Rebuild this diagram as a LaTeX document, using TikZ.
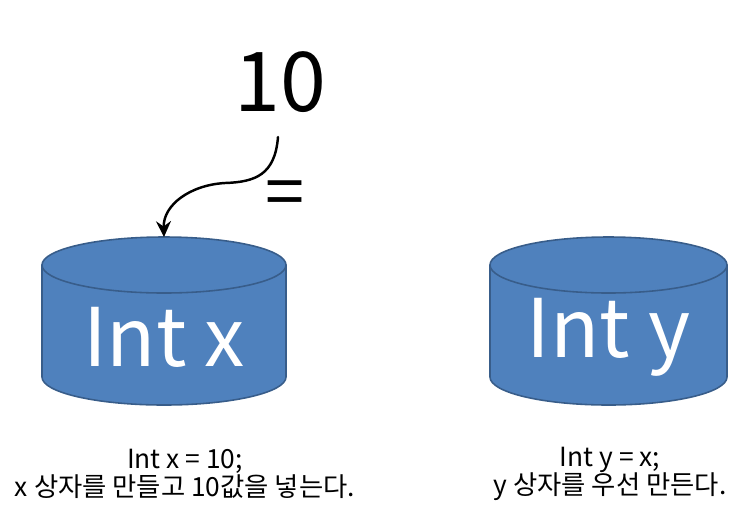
\documentclass[tikz,border=0pt]{standalone}
\usepackage{fontspec}
\setmainfont{Noto Sans CJK KR}
\usetikzlibrary{arrows.meta,calc}
\usetikzlibrary{positioning}
\definecolor{boxblue}{HTML}{4F81BD}
\definecolor{boxedge}{HTML}{385D8A}

\begin{document}
\begin{tikzpicture}[x=0.02cm,y=-0.02cm,>={Stealth[length=9pt,width=8.5pt,inset=3pt]},line cap=round,line join=round,
  boxbody/.style={fill=boxblue,draw=boxedge,line width=0.9pt},
  boxlabel/.style={text=white,font=\fontsize{46}{48}\selectfont},
  caption/.style={align=center,font=\fontsize{15}{16}\selectfont}]
\useasboundingbox (0,0) rectangle (740,515);
% box x
\draw[boxbody] (42,265) -- (42,377) arc (180:0:122 and 28) -- (286,265);
\draw[boxbody] (164,265) ellipse (122 and 28);
\coordinate (xtop) at (164,237);
\node[boxlabel] (xlabel) at (164,337) {Int x};
% box y
\draw[boxbody] (490,265) -- (490,377) arc (180:0:118.5 and 28) -- (727,265);
\draw[boxbody] (608.5,265) ellipse (118.5 and 28);
\node[boxlabel] (ylabel) at (608.5,337) {Int y};
% value and assignment
\node[font=\fontsize{47}{49}\selectfont] (ten) at (280,82) {10};
\node[font=\fontsize{40}{42}\selectfont] (eq) at (285,199) {=};
\draw[->,line width=1.4pt] (278,137) .. controls (275,175) and (255,182) .. (225,183)
  .. controls (190,185) and (163,205) .. (xtop);
% captions
\node[caption] (xcap) at (185,474) {Int x = 10;\\x 상자를 만들고 10값을 넣는다.};
\node[caption] (ycap) at (610,474) {Int y = x;\\y 상자를 우선 만든다.};
\end{tikzpicture}
\end{document}
